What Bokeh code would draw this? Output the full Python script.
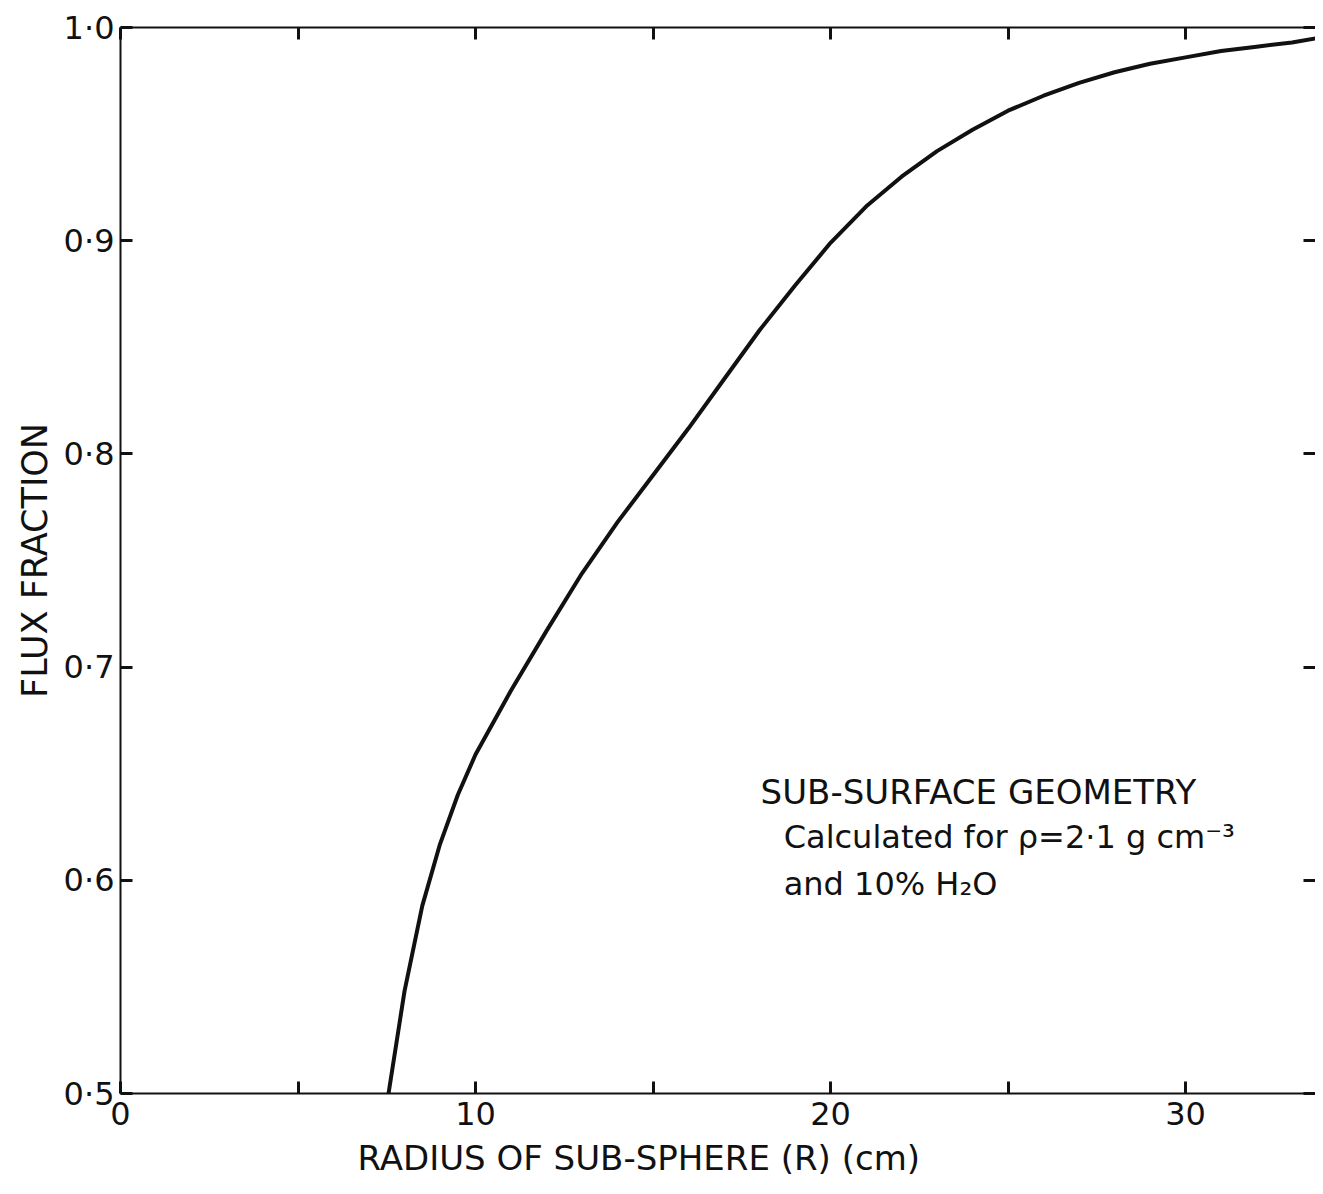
from bokeh.plotting import figure
from bokeh.models import Range1d, LinearAxis, FixedTicker, Label, Title
from bokeh.embed import file_html
from bokeh.resources import INLINE

# ---- data ----
radius_cm = [7.55, 8.0, 8.5, 9.0, 9.5, 10.0, 11.0, 12.0, 13.0, 14.0, 15.0, 16.0,
             17.0, 18.0, 19.0, 20.0, 21.0, 22.0, 23.0, 24.0, 25.0, 26.0, 27.0,
             28.0, 29.0, 30.0, 31.0, 32.0, 33.0, 33.7]
flux_fraction = [0.500, 0.548, 0.588, 0.617, 0.640, 0.659, 0.689, 0.717, 0.744,
                 0.768, 0.790, 0.812, 0.835, 0.858, 0.879, 0.899, 0.916, 0.930,
                 0.942, 0.952, 0.961, 0.968, 0.974, 0.979, 0.983, 0.986, 0.989,
                 0.991, 0.993, 0.995]

x_ticks = [0, 5, 10, 15, 20, 25, 30]
x_tick_labels = {0: "0", 5: "", 10: "10", 15: "", 20: "20", 25: "", 30: "30"}
y_ticks = [0.5, 0.6, 0.7, 0.8, 0.9, 1.0]
y_tick_labels = {0.5: "0·5", 0.6: "0·6", 0.7: "0·7", 0.8: "0·8", 0.9: "0·9", 1.0: "1·0"}

x_title = "RADIUS OF SUB-SPHERE (R) (cm)"
y_title = "FLUX FRACTION"
note_lines = ["SUB-SURFACE GEOMETRY",
              "Calculated for ρ=2·1 g cm⁻³",
              "and 10% H₂O"]

FONT = "DejaVu Sans"
INK = "#111111"

p = figure(width=1315, height=1186, output_backend="svg", toolbar_location=None,
           x_range=Range1d(0, 33.66), y_range=Range1d(0.5, 1.0),
           min_border_left=120, min_border_right=0, min_border_top=27,
           min_border_bottom=93)
p.outline_line_color = None
p.grid.visible = False
p.background_fill_color = "white"
p.border_fill_color = "white"


def style_axis(ax, ticks, labels, show_line=True):
    ax.ticker = FixedTicker(ticks=ticks)
    ax.major_label_overrides = labels
    ax.minor_tick_line_color = None
    ax.major_tick_in = 12
    ax.major_tick_out = 0
    ax.major_tick_line_width = 3
    ax.major_tick_line_color = INK
    ax.axis_line_width = 2
    ax.axis_line_color = INK if show_line else None
    ax.major_label_text_font = FONT
    ax.major_label_text_font_size = "32px"
    ax.major_label_text_color = INK


bottom = p.xaxis[0]
style_axis(bottom, x_ticks, x_tick_labels)
bottom.major_label_standoff = 8

left = p.yaxis[0]
style_axis(left, y_ticks, y_tick_labels)
left.major_label_standoff = 6
left.axis_label = y_title
left.axis_label_text_font = FONT
left.axis_label_text_font_style = "normal"
left.axis_label_text_font_size = "35px"
left.axis_label_text_color = INK
left.axis_label_standoff = 6

top = LinearAxis()
style_axis(top, x_ticks, {t: "" for t in x_ticks})
top.major_label_standoff = 0
p.add_layout(top, "above")

right = LinearAxis()
style_axis(right, y_ticks, {t: "" for t in y_ticks}, show_line=False)
right.major_label_standoff = 0
p.add_layout(right, "right")

p.line(radius_cm, flux_fraction, line_width=4, line_color=INK)

p.add_layout(Title(text=x_title, align="left", offset=237, standoff=16,
                   text_font=FONT, text_font_size="34px",
                   text_font_style="normal", text_color=INK), "below")

note_x = [18.03, 18.68, 18.68]
note_y = [0.6412, 0.6201, 0.5981]
note_size = ["34px", "32px", "32px"]
for tx, ty, line, fs in zip(note_x, note_y, note_lines, note_size):
    p.add_layout(Label(x=tx, y=ty, text=line, text_align="left",
                       text_baseline="alphabetic", text_font=FONT,
                       text_font_size=fs, text_color=INK))

open("out.html", "w").write(file_html(p, INLINE))
